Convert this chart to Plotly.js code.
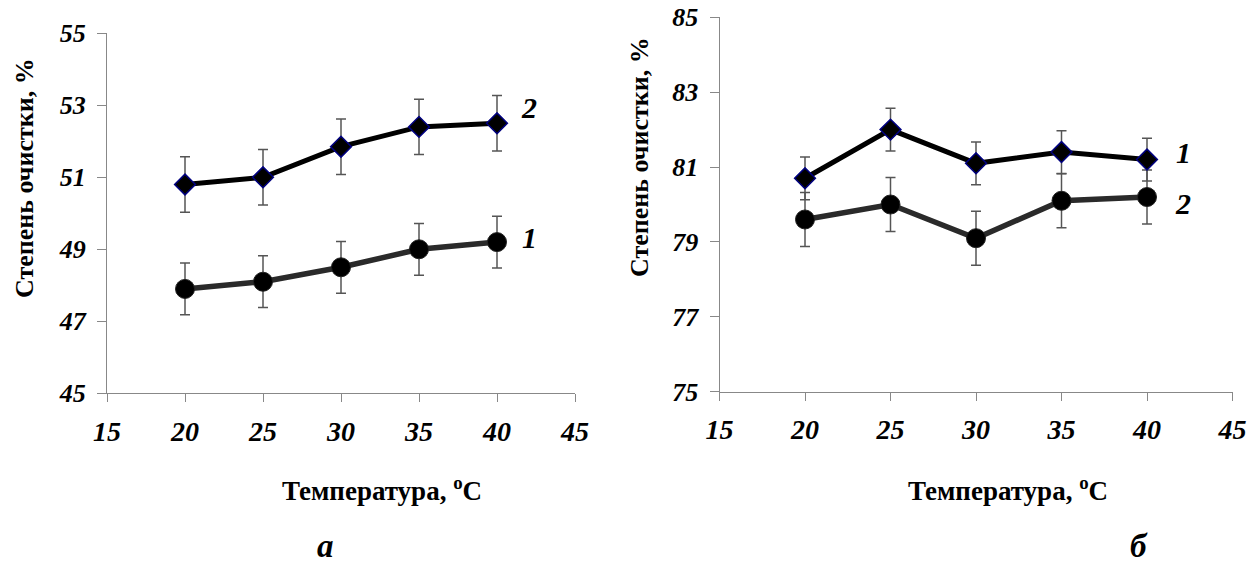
<!DOCTYPE html>
<html>
<head>
<meta charset="utf-8">
<script src="https://cdn.plot.ly/plotly-3.0.1.min.js"></script>
<style>
html,body{margin:0;padding:0;background:#fff;}
#chart{width:1260px;height:569px;}
</style>
</head>
<body>
<div id="chart"></div>
<script>
// ---- data ----
const temps = [20, 25, 30, 35, 40];
const xTicks = [15, 20, 25, 30, 35, 40, 45];

// panel а
const a_curve2 = [50.8, 51.0, 51.85, 52.4, 52.5];
const a_curve2_err = [0.77, 0.77, 0.77, 0.77, 0.77];
const a_curve1 = [47.9, 48.1, 48.5, 49.0, 49.2];
const a_curve1_err = [0.72, 0.72, 0.72, 0.72, 0.72];
const a_yTicks = [45, 47, 49, 51, 53, 55];

// panel б
const b_curve1 = [80.7, 82.0, 81.1, 81.4, 81.2];
const b_curve1_err = [0.57, 0.57, 0.57, 0.57, 0.57];
const b_curve2 = [79.6, 80.0, 79.1, 80.1, 80.2];
const b_curve2_err = [0.72, 0.72, 0.72, 0.72, 0.72];
const b_yTicks = [75, 77, 79, 81, 83, 85];

const yTitle = 'Степень очистки, %';
const xTitle = 'Температура, <sup>o</sup>C';

// ---- styling ----
const W = 1260, H = 569;
const px = x => x / W;
const py = y => 1 - y / H;
const serif = '"Liberation Serif", "Times New Roman", serif';
const errStyle = arr => ({type: 'data', array: arr, visible: true, color: '#555', thickness: 1.5, width: 5});

const diamondTrace = (y, err, xa, ya, name) => ({
  x: temps, y: y, xaxis: xa, yaxis: ya, name: name, mode: 'lines+markers',
  line: {color: '#000', width: 5},
  marker: {symbol: 'diamond', size: 16, color: '#000', line: {color: '#000080', width: 1.5}},
  error_y: errStyle(err)
});
const circleTrace = (y, err, xa, ya, name) => ({
  x: temps, y: y, xaxis: xa, yaxis: ya, name: name, mode: 'lines+markers',
  line: {color: '#2a2a2a', width: 5.5},
  marker: {symbol: 'circle', size: 19, color: '#000', line: {color: '#222', width: 1}},
  error_y: errStyle(err)
});

const data = [
  circleTrace(a_curve1, a_curve1_err, 'x', 'y', '1 (а)'),
  diamondTrace(a_curve2, a_curve2_err, 'x', 'y', '2 (а)'),
  circleTrace(b_curve2, b_curve2_err, 'x2', 'y2', '2 (б)'),
  diamondTrace(b_curve1, b_curve1_err, 'x2', 'y2', '1 (б)')
];

const tickFontX = {family: serif, size: 28, color: '#000', weight: 'bold', style: 'italic'};
const tickFontY = {family: serif, size: 26, color: '#000', weight: 'bold', style: 'italic'};
const axisBase = {
  showgrid: false, zeroline: false, showline: true, linecolor: '#888', linewidth: 1,
  ticks: 'outside', tickcolor: '#888', tickwidth: 1, fixedrange: true
};
const xBase = Object.assign({}, axisBase, {tickfont: tickFontX, ticklen: 8, ticklabelstandoff: 5, range: [15, 45], tickvals: xTicks});
const yBase = Object.assign({}, axisBase, {tickfont: tickFontY, ticklen: 9, ticklabelstandoff: 6});

const ann = (text, x, y, size, extra) => ({
  text: text, x: px(x), y: py(y), xref: 'paper', yref: 'paper', showarrow: false,
  xanchor: 'center', yanchor: 'middle',
  font: Object.assign({family: serif, size: size, color: '#000', weight: 'bold'}, extra || {})
});

const titleY = (x, y) => Object.assign(ann(yTitle, x, y, 26), {textangle: -90});

const layout = {
  width: W, height: H,
  margin: {l: 0, r: 0, t: 0, b: 0},
  paper_bgcolor: '#fff', plot_bgcolor: '#fff',
  showlegend: false,
  xaxis: Object.assign({}, xBase, {domain: [px(107), px(575)], anchor: 'y'}),
  yaxis: Object.assign({}, yBase, {domain: [py(393.3), py(33.3)], range: [45, 55], tickvals: a_yTicks, anchor: 'x'}),
  xaxis2: Object.assign({}, xBase, {domain: [px(719.5), px(1232.5)], anchor: 'y2'}),
  yaxis2: Object.assign({}, yBase, {domain: [py(391.7), py(17.3)], range: [75, 85], tickvals: b_yTicks, anchor: 'x2'}),
  annotations: [
    titleY(25, 178),
    titleY(639, 157),
    ann(xTitle, 382, 489, 27),
    ann(xTitle, 1008, 489, 27),
    ann('а', 325, 546, 33, {style: 'italic'}),
    ann('б', 1139, 546, 33, {style: 'italic'}),
    ann('2', 529, 108, 30, {style: 'italic'}),
    ann('1', 529, 237, 30, {style: 'italic'}),
    ann('1', 1183, 153, 30, {style: 'italic'}),
    ann('2', 1183, 203, 30, {style: 'italic'})
  ]
};

Plotly.newPlot('chart', data, layout, {staticPlot: true, displayModeBar: false});
</script>
</body>
</html>
